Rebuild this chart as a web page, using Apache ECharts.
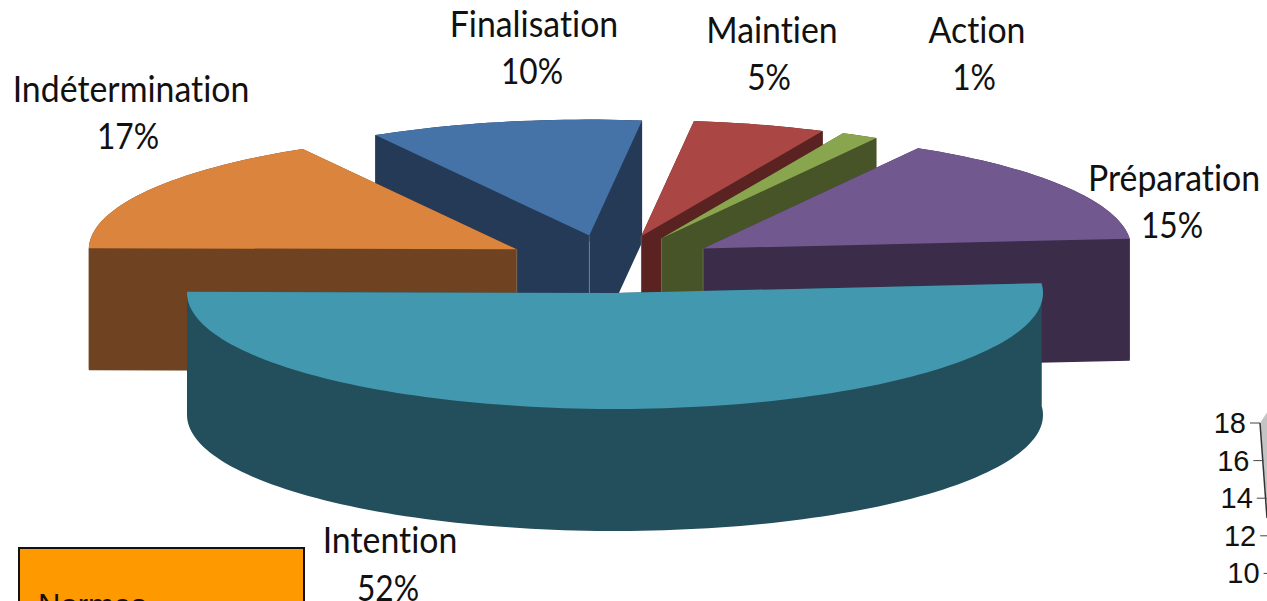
<!DOCTYPE html>
<html>
<head>
<meta charset="utf-8">
<style>
  html, body { margin: 0; padding: 0; background: #fff; }
  #main { width: 1267px; height: 601px; }
  #main text { font-variant-ligatures: none !important; }
</style>
<script src="https://cdn.jsdelivr.net/npm/echarts@6/dist/echarts.min.js"></script>
</head>
<body>
<div id="main"></div>
<script>
// clockwise order, starting from the left edge of Finalisation
var categories = ['Finalisation', 'Maintien', 'Action', 'Préparation', 'Intention', 'Indétermination'];
var percents = [10.3, 5.0, 1.4, 15.3, 51.5, 16.5];
var tickLabels = [18, 16, 14, 12, 10, 8];
var boxText = 'Normes';

var topColors = ['#4573a7', '#aa4643', '#89a54e', '#71588f', '#4298af', '#db843d'];
var wallColors = ['#243a57', '#5a2322', '#475428', '#3b2c4a', '#234e5c', '#6f4321'];
// back to front
var paintOrder = [0, 1, 2, 3, 5, 4];
var labelSpots = [[534, 23, 532, 70], [772, 29, 769, 76], [977, 29, 974, 76], [1174, 177, 1172, 224], [390, 539, 388, 587], [131, 88, 128, 135]];

var pie = { cx: 611, cy: 264, rx: 428, ry: 116, depth: 122, explodeX: 0.255, explodeY: 0.25, startAngle: 120 };
var labelFont = '36px Lato, sans-serif';

var total = 0;
percents.forEach(function(p) { total += p; });

var slices = [];
var cursor = pie.startAngle;
for (var i = 0; i < percents.length; ++i) {
  var sweep = percents[i] / total * 360;
  slices.push({ from: cursor, to: cursor - sweep });
  cursor -= sweep;
}

function rad(a) { return a * Math.PI / 180; }

function renderSlice(params, api) {
  var idx = api.value(0);
  var s = slices[idx];
  var mid = rad((s.from + s.to) / 2);
  var ax = pie.cx + pie.explodeX * pie.rx * Math.cos(mid);
  var ay = pie.cy - pie.explodeY * pie.ry * Math.sin(mid);
  var arc = [];
  var n = Math.max(4, Math.ceil((s.from - s.to) / 1.5));
  for (var k = 0; k <= n; ++k) {
    var a = rad(s.from + (s.to - s.from) * k / n);
    arc.push([ax + pie.rx * Math.cos(a), ay - pie.ry * Math.sin(a)]);
  }
  var down = function(p) { return [p[0], p[1] + pie.depth]; };
  var first = arc[0];
  var last = arc[arc.length - 1];
  var apex = [ax, ay];
  var wallStyle = { fill: wallColors[idx] };
  var children = [
    {
      type: 'polygon',
      shape: { points: arc.concat(arc.slice().reverse().map(down)) },
      style: wallStyle
    },
    {
      type: 'polygon',
      shape: { points: [apex, first, down(first), down(apex)] },
      style: wallStyle
    },
    {
      type: 'polygon',
      shape: { points: [apex, last, down(last), down(apex)] },
      style: wallStyle
    }
  ];
  // the light seam down the apex only shows on the back slices
  if (Math.sin(mid) > 0) {
    children.push({
      type: 'line',
      shape: { x1: ax, y1: ay, x2: ax, y2: ay + pie.depth },
      style: { stroke: 'rgba(190,200,215,0.4)', lineWidth: 0.7 }
    });
  }
  children.push({
    type: 'polygon',
    shape: { points: [apex].concat(arc) },
    style: { fill: topColors[idx] }
  });
  return { type: 'group', children: children };
}

function renderLabel(params, api) {
  var idx = api.value(0);
  var spot = labelSpots[idx];
  return {
    type: 'group',
    children: [
      {
        type: 'text', x: spot[0], y: spot[1], scaleX: 0.94,
        style: { text: categories[idx], font: labelFont, fill: '#111', textAlign: 'center', textVerticalAlign: 'middle' }
      },
      {
        type: 'text', x: spot[2], y: spot[3], scaleX: 0.88,
        style: { text: Math.round(percents[idx]) + '%', font: labelFont, fill: '#111', textAlign: 'center', textVerticalAlign: 'middle' }
      }
    ]
  };
}

// cut-off neighbour chart: box on the left, slanted axis on the right
var extras = [
  {
    type: 'rect', shape: { x: 19, y: 548, width: 285, height: 60 },
    style: { fill: '#ff9900', stroke: '#111', lineWidth: 2 }
  },
  {
    type: 'text', x: 38, y: 590,
    style: { text: boxText, font: '31px "Liberation Sans", sans-serif', fill: '#111', textVerticalAlign: 'top' }
  },
  {
    type: 'polygon', shape: { points: [[1260, 423], [1268, 411], [1268, 520]] },
    style: { fill: '#c4c4c4' }
  },
  {
    type: 'line', shape: { x1: 1260, y1: 423, x2: 1267, y2: 518 },
    style: { stroke: '#333', lineWidth: 1.5 }
  }
];
tickLabels.forEach(function(v) {
  var y = 423 + (18 - v) * 18.8;
  var x = 1250 + (18 - v) * 1.7;
  extras.push({ type: 'line', shape: { x1: x, y1: y, x2: x + 10, y2: y }, style: { stroke: '#444', lineWidth: 1 } });
  extras.push({
    type: 'text', x: x - 4, y: y,
    style: { text: String(v), font: '29px "Liberation Sans", sans-serif', fill: '#111', textAlign: 'right', textVerticalAlign: 'middle' }
  });
});

var myChart = echarts.init(document.getElementById('main'), null, { renderer: 'svg' });
var option = {
  animation: false,
  backgroundColor: '#fff',
  graphic: { elements: extras },
  series: [
    {
      type: 'custom',
      coordinateSystem: 'none',
      silent: true,
      renderItem: renderSlice,
      data: paintOrder.map(function(i) { return [i, percents[i]]; })
    },
    {
      type: 'custom',
      coordinateSystem: 'none',
      silent: true,
      z: 5,
      renderItem: renderLabel,
      data: paintOrder.map(function(i) { return [i, percents[i]]; })
    }
  ]
};
myChart.setOption(option);
</script>
</body>
</html>
